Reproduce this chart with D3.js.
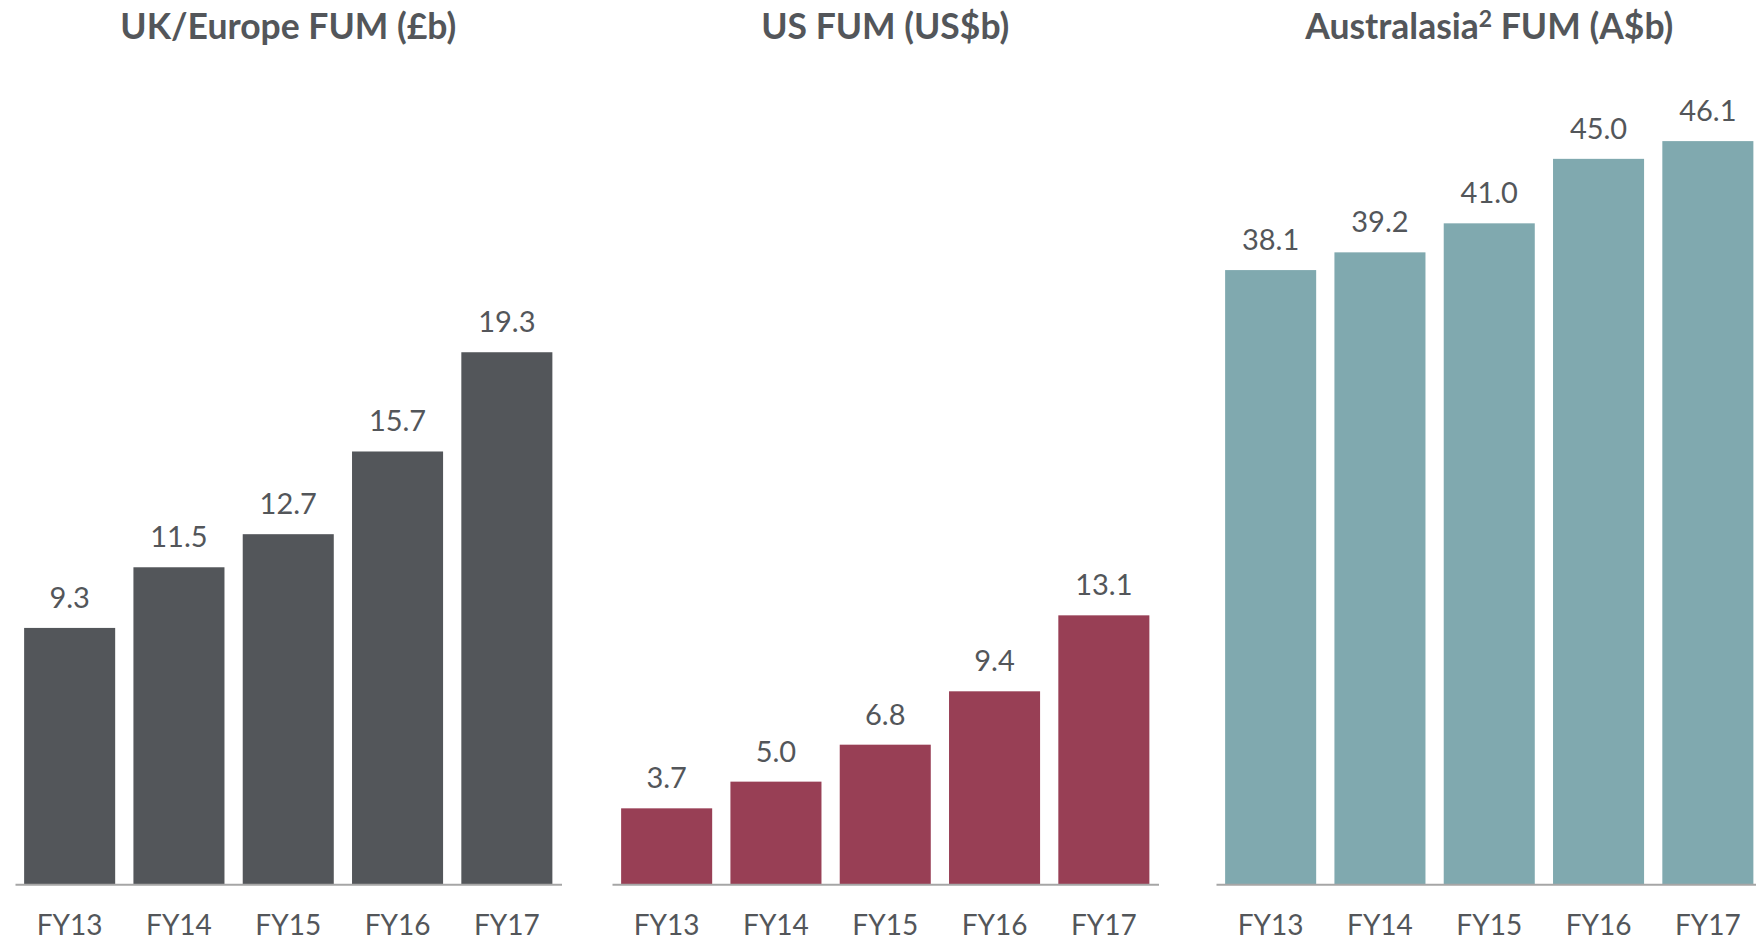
<!DOCTYPE html>
<html>
<head>
<meta charset="utf-8">
<script src="https://cdn.jsdelivr.net/npm/d3@7"></script>
<style>
  html, body { margin: 0; padding: 0; background: #ffffff; }
  svg { display: block; }
  text { font-family: Lato, "Open Sans", sans-serif; fill: #53565A; }
</style>
</head>
<body>
<svg id="chart" width="1756" height="941"></svg>
<script>
// ---- data ----
const categories = ["FY13", "FY14", "FY15", "FY16", "FY17"];
const ukValues = [9.3, 11.5, 12.7, 15.7, 19.3];
const usValues = [3.7, 5.0, 6.8, 9.4, 13.1];
const auValues = [38.1, 39.2, 41.0, 45.0, 46.1];
const panelTitles = ["UK/Europe FUM (£b)", "US FUM (US$b)", "Australasia² FUM (A$b)"];
const valueLabels = [
  ["9.3", "11.5", "12.7", "15.7", "19.3"],
  ["3.7", "5.0", "6.8", "9.4", "13.1"],
  ["38.1", "39.2", "41.0", "45.0", "46.1"]
];
const yMaxes = [28.45, 38.2, 48.65];

// ---- layout ----
const svg = d3.select("#chart");
const baseline = 884.3;
const plotTop = 100;
const panelWidth = 546.5;
const panelLefts = [15, 612, 1216];
const colors = ["#53565A", "#983F55", "#80A9AF"];
const seriesList = [ukValues, usValues, auValues];

seriesList.forEach((values, p) => {
  const left = panelLefts[p];
  const x = d3.scaleBand()
    .domain(categories)
    .range([left, left + panelWidth])
    .paddingInner(0.167)
    .paddingOuter(0.0835);
  const y = d3.scaleLinear().domain([0, yMaxes[p]]).range([baseline, plotTop]);

  const g = svg.append("g");

  g.selectAll("rect.bar")
    .data(values)
    .join("rect")
    .attr("class", "bar")
    .attr("x", (d, i) => x(categories[i]))
    .attr("width", x.bandwidth())
    .attr("y", d => y(d))
    .attr("height", d => baseline - y(d))
    .attr("fill", colors[p]);

  g.selectAll("text.val")
    .data(values)
    .join("text")
    .attr("class", "val")
    .attr("x", (d, i) => x(categories[i]) + x.bandwidth() / 2)
    .attr("y", d => y(d) - 20)
    .attr("text-anchor", "middle")
    .style("font-size", "29px")
    .text((d, i) => valueLabels[p][i]);

  const axis = d3.axisBottom(x).tickSize(0).tickSizeOuter(0);
  const ag = g.append("g")
    .attr("transform", `translate(0,${baseline})`)
    .call(axis);
  ag.select(".domain").attr("stroke", "#A6A6A6").attr("stroke-width", 2);
  ag.selectAll(".tick text")
    .attr("y", 51)
    .attr("dy", 0)
    .style("font-size", "28px")
    .style("font-family", "Lato, 'Open Sans', sans-serif")
    .attr("fill", "#53565A");

  // title
  const t = svg.append("text")
    .attr("x", left + panelWidth / 2)
    .attr("y", 39)
    .attr("text-anchor", "middle")
    .style("font-size", "35.5px")
    .style("font-weight", "bold");
  const title = panelTitles[p];
  const supIdx = title.indexOf("²");
  if (supIdx >= 0) {
    t.append("tspan").text(title.slice(0, supIdx));
    t.append("tspan").attr("dy", -12).style("font-size", "23px").text("2");
    t.append("tspan").attr("dy", 12).text(title.slice(supIdx + 1));
  } else {
    t.text(title);
  }
});
</script>
</body>
</html>
